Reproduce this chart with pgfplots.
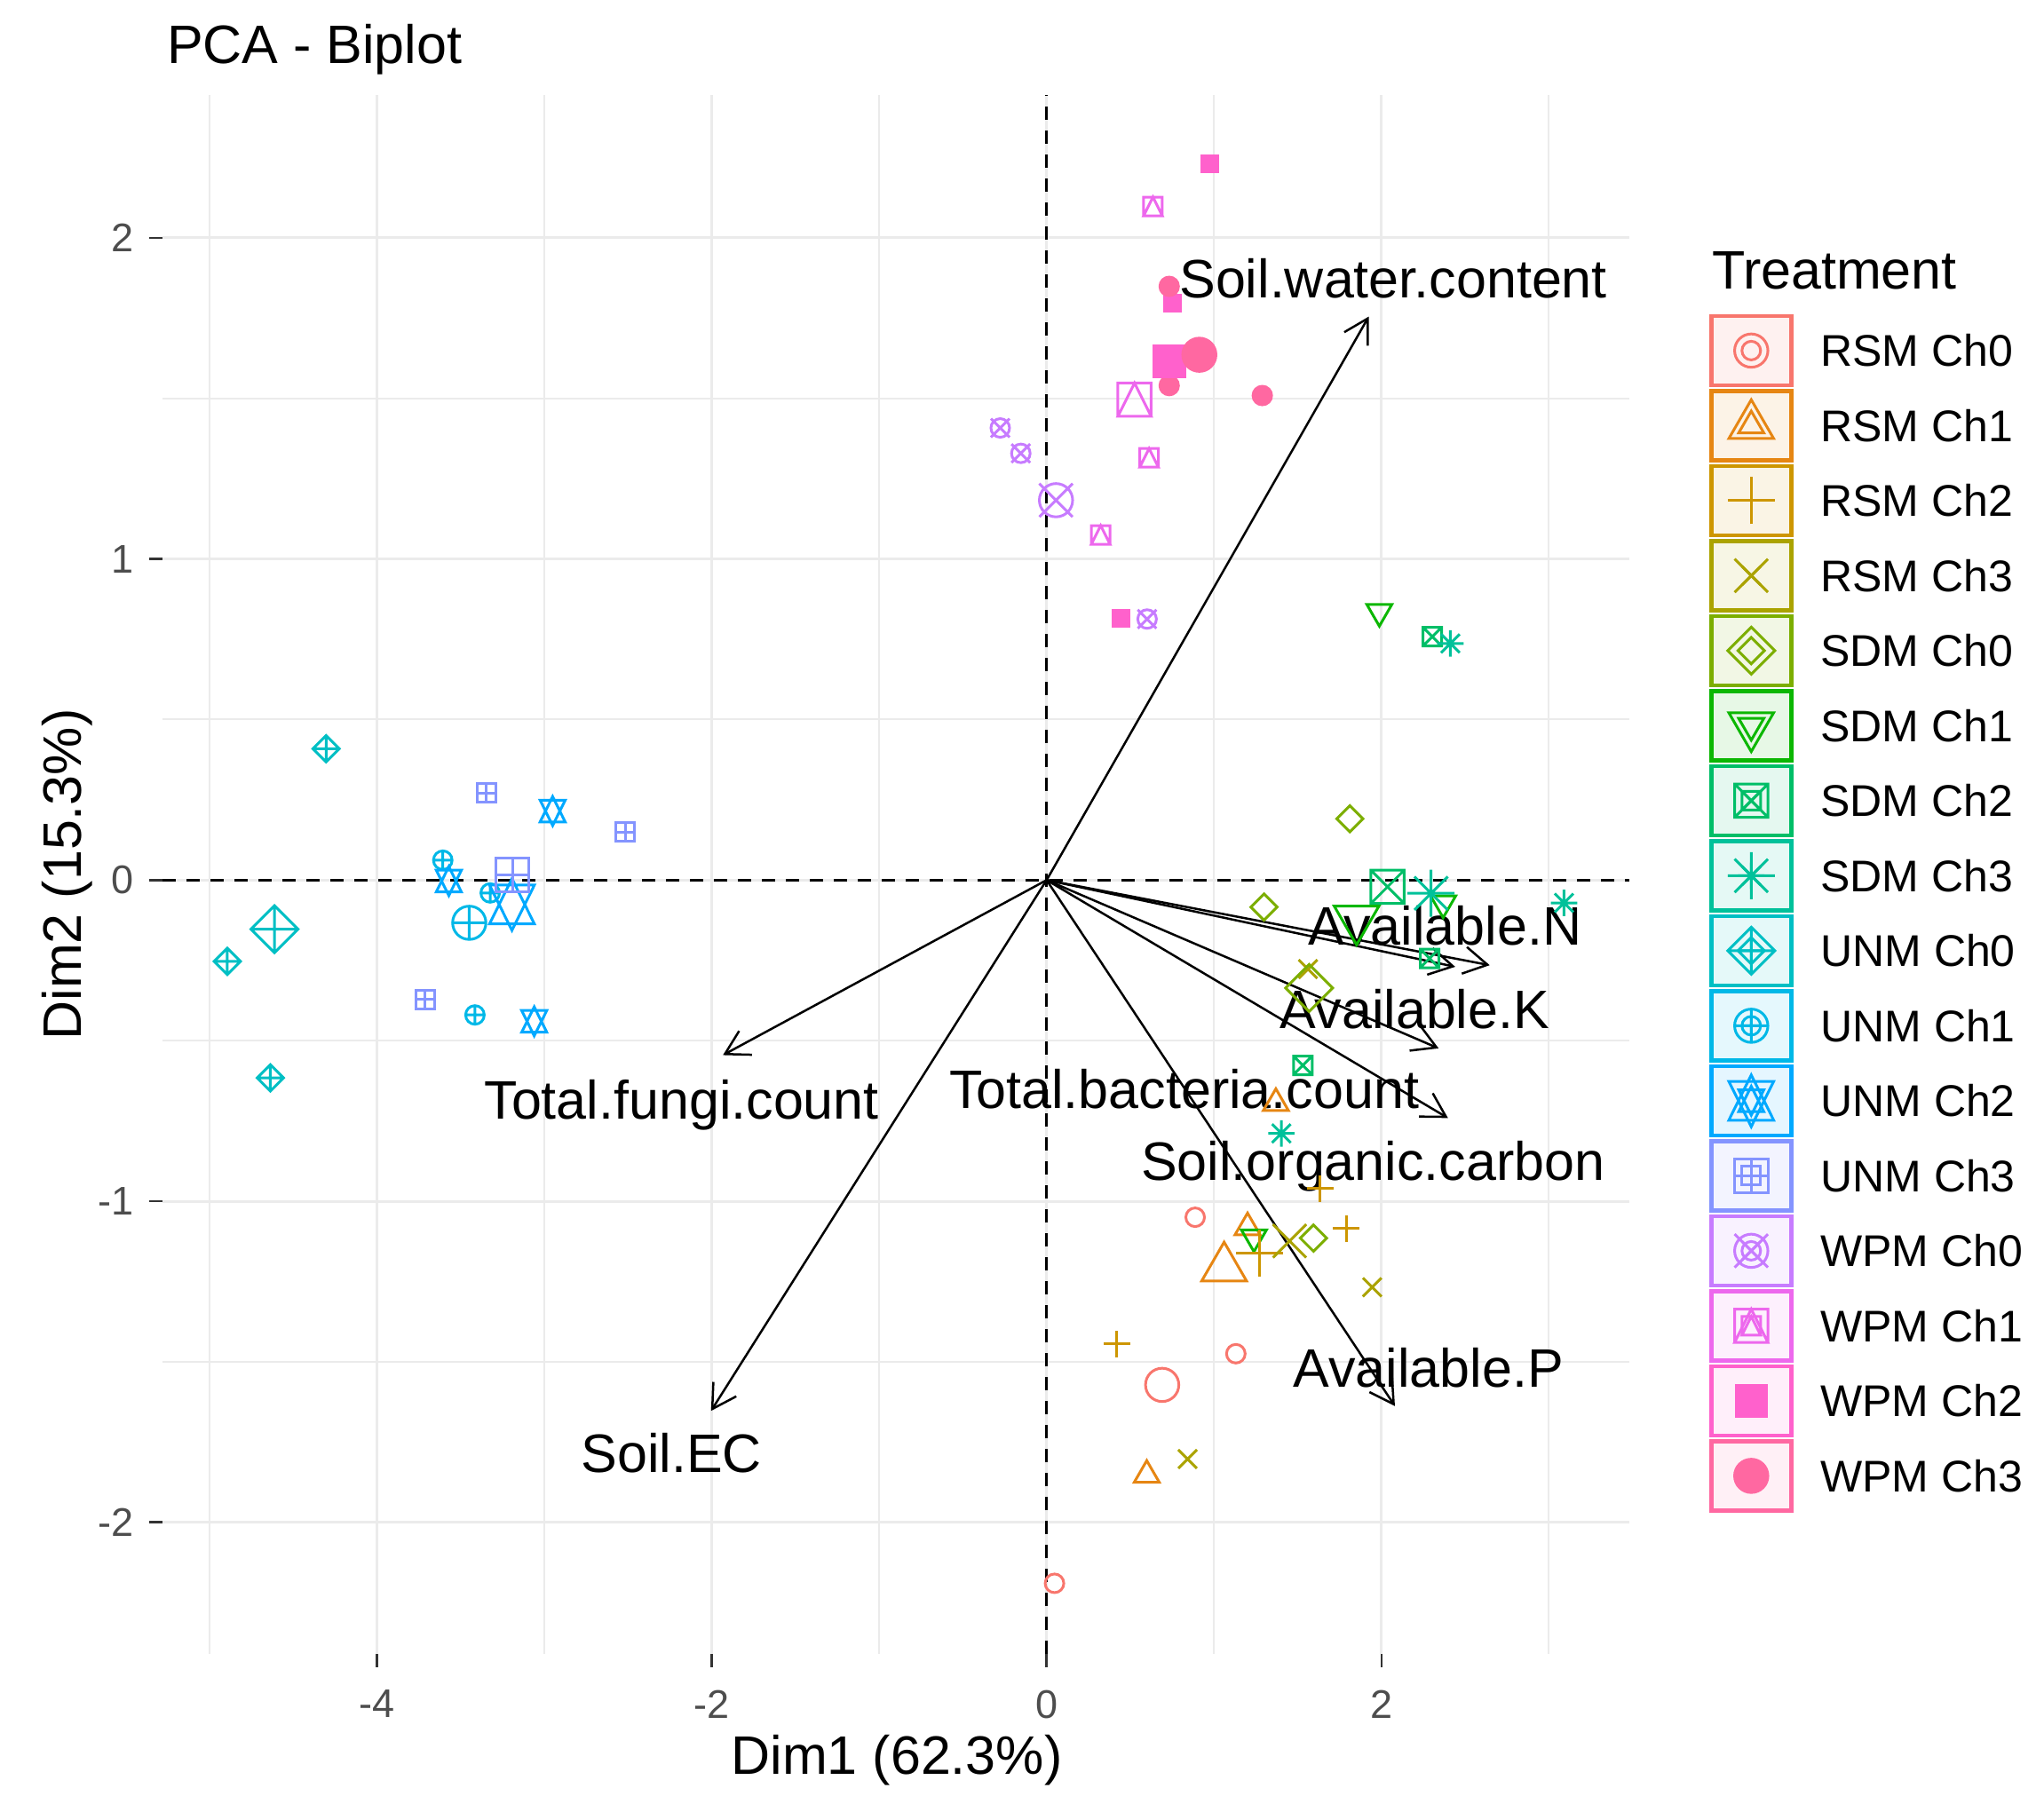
\documentclass[border=0pt]{standalone}
\usepackage{pgfplots}
\pgfplotsset{compat=1.18}
\usetikzlibrary{arrows.meta}
\usepackage{fontspec}
\setmainfont{Liberation Sans}

% ggplot hue palette, 16 levels
\definecolor{c1}{HTML}{F8766D}
\definecolor{c2}{HTML}{E68613}
\definecolor{c3}{HTML}{CD9600}
\definecolor{c4}{HTML}{ABA300}
\definecolor{c5}{HTML}{7CAE00}
\definecolor{c6}{HTML}{0CB702}
\definecolor{c7}{HTML}{00BE67}
\definecolor{c8}{HTML}{00C19A}
\definecolor{c9}{HTML}{00BFC4}
\definecolor{c10}{HTML}{00B8E7}
\definecolor{c11}{HTML}{00A9FF}
\definecolor{c12}{HTML}{8494FF}
\definecolor{c13}{HTML}{C77CFF}
\definecolor{c14}{HTML}{ED68ED}
\definecolor{c15}{HTML}{FF61CC}
\definecolor{c16}{HTML}{FF68A1}
\definecolor{gridc}{HTML}{EBEBEB}
\definecolor{gray30}{HTML}{4D4D4D}
\definecolor{gray20}{HTML}{333333}

% R pch shapes 1..16
\def\pmR{\pgfplotmarksize}
\pgfdeclareplotmark{p1}{\pgfpathcircle{\pgfpointorigin}{\pmR}\pgfusepathqstroke}
\pgfdeclareplotmark{p2}{%
  \pgfpathmoveto{\pgfqpoint{0pt}{1.5551\pmR}}%
  \pgfpathlineto{\pgfqpoint{1.3468\pmR}{-0.7776\pmR}}%
  \pgfpathlineto{\pgfqpoint{-1.3468\pmR}{-0.7776\pmR}}%
  \pgfpathclose\pgfusepathqstroke}
\pgfdeclareplotmark{p3}{%
  \pgfpathmoveto{\pgfqpoint{-1.4142\pmR}{0pt}}\pgfpathlineto{\pgfqpoint{1.4142\pmR}{0pt}}%
  \pgfpathmoveto{\pgfqpoint{0pt}{-1.4142\pmR}}\pgfpathlineto{\pgfqpoint{0pt}{1.4142\pmR}}%
  \pgfusepathqstroke}
\pgfdeclareplotmark{p4}{%
  \pgfpathmoveto{\pgfqpoint{-\pmR}{-\pmR}}\pgfpathlineto{\pgfqpoint{\pmR}{\pmR}}%
  \pgfpathmoveto{\pgfqpoint{-\pmR}{\pmR}}\pgfpathlineto{\pgfqpoint{\pmR}{-\pmR}}%
  \pgfusepathqstroke}
\pgfdeclareplotmark{p5}{%
  \pgfpathmoveto{\pgfqpoint{0pt}{1.4142\pmR}}\pgfpathlineto{\pgfqpoint{1.4142\pmR}{0pt}}%
  \pgfpathlineto{\pgfqpoint{0pt}{-1.4142\pmR}}\pgfpathlineto{\pgfqpoint{-1.4142\pmR}{0pt}}%
  \pgfpathclose\pgfusepathqstroke}
\pgfdeclareplotmark{p6}{%
  \pgfpathmoveto{\pgfqpoint{0pt}{-1.5551\pmR}}%
  \pgfpathlineto{\pgfqpoint{1.3468\pmR}{0.7776\pmR}}%
  \pgfpathlineto{\pgfqpoint{-1.3468\pmR}{0.7776\pmR}}%
  \pgfpathclose\pgfusepathqstroke}
\pgfdeclareplotmark{p7}{%
  \pgfpathrectanglecorners{\pgfqpoint{-\pmR}{-\pmR}}{\pgfqpoint{\pmR}{\pmR}}%
  \pgfpathmoveto{\pgfqpoint{-\pmR}{-\pmR}}\pgfpathlineto{\pgfqpoint{\pmR}{\pmR}}%
  \pgfpathmoveto{\pgfqpoint{-\pmR}{\pmR}}\pgfpathlineto{\pgfqpoint{\pmR}{-\pmR}}%
  \pgfusepathqstroke}
\pgfdeclareplotmark{p8}{%
  \pgfpathmoveto{\pgfqpoint{-\pmR}{-\pmR}}\pgfpathlineto{\pgfqpoint{\pmR}{\pmR}}%
  \pgfpathmoveto{\pgfqpoint{-\pmR}{\pmR}}\pgfpathlineto{\pgfqpoint{\pmR}{-\pmR}}%
  \pgfpathmoveto{\pgfqpoint{-1.4142\pmR}{0pt}}\pgfpathlineto{\pgfqpoint{1.4142\pmR}{0pt}}%
  \pgfpathmoveto{\pgfqpoint{0pt}{-1.4142\pmR}}\pgfpathlineto{\pgfqpoint{0pt}{1.4142\pmR}}%
  \pgfusepathqstroke}
\pgfdeclareplotmark{p9}{%
  \pgfpathmoveto{\pgfqpoint{0pt}{1.4142\pmR}}\pgfpathlineto{\pgfqpoint{1.4142\pmR}{0pt}}%
  \pgfpathlineto{\pgfqpoint{0pt}{-1.4142\pmR}}\pgfpathlineto{\pgfqpoint{-1.4142\pmR}{0pt}}%
  \pgfpathclose
  \pgfpathmoveto{\pgfqpoint{-1.4142\pmR}{0pt}}\pgfpathlineto{\pgfqpoint{1.4142\pmR}{0pt}}%
  \pgfpathmoveto{\pgfqpoint{0pt}{-1.4142\pmR}}\pgfpathlineto{\pgfqpoint{0pt}{1.4142\pmR}}%
  \pgfusepathqstroke}
\pgfdeclareplotmark{p10}{%
  \pgfpathcircle{\pgfpointorigin}{\pmR}%
  \pgfpathmoveto{\pgfqpoint{-\pmR}{0pt}}\pgfpathlineto{\pgfqpoint{\pmR}{0pt}}%
  \pgfpathmoveto{\pgfqpoint{0pt}{-\pmR}}\pgfpathlineto{\pgfqpoint{0pt}{\pmR}}%
  \pgfusepathqstroke}
\pgfdeclareplotmark{p11}{%
  \pgfpathmoveto{\pgfqpoint{0pt}{-1.5551\pmR}}%
  \pgfpathlineto{\pgfqpoint{1.3468\pmR}{1.1663\pmR}}%
  \pgfpathlineto{\pgfqpoint{-1.3468\pmR}{1.1663\pmR}}\pgfpathclose
  \pgfpathmoveto{\pgfqpoint{0pt}{1.5551\pmR}}%
  \pgfpathlineto{\pgfqpoint{1.3468\pmR}{-1.1663\pmR}}%
  \pgfpathlineto{\pgfqpoint{-1.3468\pmR}{-1.1663\pmR}}\pgfpathclose
  \pgfusepathqstroke}
\pgfdeclareplotmark{p12}{%
  \pgfpathrectanglecorners{\pgfqpoint{-\pmR}{-\pmR}}{\pgfqpoint{\pmR}{\pmR}}%
  \pgfpathmoveto{\pgfqpoint{-\pmR}{0pt}}\pgfpathlineto{\pgfqpoint{\pmR}{0pt}}%
  \pgfpathmoveto{\pgfqpoint{0pt}{-\pmR}}\pgfpathlineto{\pgfqpoint{0pt}{\pmR}}%
  \pgfusepathqstroke}
\pgfdeclareplotmark{p13}{%
  \pgfpathcircle{\pgfpointorigin}{\pmR}%
  \pgfpathmoveto{\pgfqpoint{-\pmR}{-\pmR}}\pgfpathlineto{\pgfqpoint{\pmR}{\pmR}}%
  \pgfpathmoveto{\pgfqpoint{-\pmR}{\pmR}}\pgfpathlineto{\pgfqpoint{\pmR}{-\pmR}}%
  \pgfusepathqstroke}
\pgfdeclareplotmark{p14}{%
  \pgfpathrectanglecorners{\pgfqpoint{-\pmR}{-\pmR}}{\pgfqpoint{\pmR}{\pmR}}%
  \pgfpathmoveto{\pgfqpoint{0pt}{\pmR}}\pgfpathlineto{\pgfqpoint{\pmR}{-\pmR}}%
  \pgfpathlineto{\pgfqpoint{-\pmR}{-\pmR}}\pgfpathclose
  \pgfusepathqstroke}
\pgfdeclareplotmark{p15}{%
  \pgfpathrectanglecorners{\pgfqpoint{-\pmR}{-\pmR}}{\pgfqpoint{\pmR}{\pmR}}\pgfusepathqfill}
\pgfdeclareplotmark{p16}{\pgfpathcircle{\pgfpointorigin}{\pmR}\pgfusepathqfillstroke}

\pgfplotsset{
  grp/.style n args={2}{only marks, color=#1, mark=#2, mark size=2.1pt, line width=0.6pt,
    legend image code/.code={%
      \path[draw=none, fill=none] (0pt,-8.45pt) rectangle (25pt,8.45pt);
      \draw[#1, line width=0.9pt, fill=#1!10] (0.4pt,-7.8pt) rectangle (18.4pt,7.8pt);
      \draw[##1, mark size=2.1pt] plot coordinates {(9.4pt,0pt)};
      \draw[##1, mark size=3.75pt] plot coordinates {(9.4pt,0pt)};
    }},
  avg/.style n args={2}{only marks, color=#1, mark=#2, mark size=3.75pt, line width=0.6pt, forget plot},
  var/.style={black, line width=0.5pt, mark=none, forget plot,
    -{Straight Barb[length=5.3pt,width=6.1pt]}},
}

\begin{document}
\begin{tikzpicture}
\path[use as bounding box] (0,0) rectangle (460.4pt,404.4pt);
\begin{axis}[
  at={(36.6pt,31.8pt)}, anchor=south west,
  scale only axis, width=330.4pt, height=351.2pt,
  xmin=-5.28, xmax=3.48, ymin=-2.41, ymax=2.445,
  xtick={-4,-2,0,2},
  xticklabels={\textnormal{-4},\textnormal{-2},\textnormal{0},\textnormal{2}},
  ytick={-2,-1,0,1,2},
  yticklabels={\textnormal{-2},\textnormal{-1},\textnormal{0},\textnormal{1},\textnormal{2}},
  minor xtick={-5,-3,-1,1,3},
  minor ytick={-1.5,-0.5,0.5,1.5},
  grid=both,
  major grid style={color=gridc, line width=0.6pt},
  minor grid style={color=gridc, line width=0.4pt},
  axis line style={draw=none},
  tick align=outside, xtick pos=left, ytick pos=left,
  major tick length=3pt, minor tick length=0pt,
  major tick style={color=gray20, line width=0.55pt},
  ticklabel style={font=\fontsize{9}{10}\selectfont, text=gray30},
  xticklabel style={yshift=-1.6pt},
  clip=false,
  legend cell align=left,
  legend style={at={(1.0545,0.8601)}, anchor=north west, draw=none, fill=none,
    inner xsep=0pt, inner ysep=0pt, outer sep=0pt, row sep=0pt, column sep=0pt,
    font=\fontsize{10}{12}\selectfont,
    nodes={inner sep=0pt, text depth=0pt, text height=7.2pt}},
]
% zero lines
\addplot[black, line width=0.7pt, dash pattern=on 3pt off 2.4pt, forget plot] coordinates {(-5.28,0) (3.48,0)};
\addplot[black, line width=0.7pt, dash pattern=on 3pt off 2.4pt, forget plot] coordinates {(0,-2.41) (0,2.445)};

% individuals
\addplot[grp={c1}{p1}] coordinates {(0.887,-1.05) (1.13,-1.475) (0.047,-2.19)};
\addlegendentry{RSM Ch0}
\addplot[grp={c2}{p2}] coordinates {(1.20,-1.082) (0.598,-1.853) (1.369,-0.695)};
\addlegendentry{RSM Ch1}
\addplot[grp={c3}{p3}] coordinates {(1.79,-1.085) (1.634,-0.961) (0.42,-1.445)};
\addlegendentry{RSM Ch2}
\addplot[grp={c4}{p4}] coordinates {(1.561,-0.277) (1.944,-1.268) (0.842,-1.803)};
\addlegendentry{RSM Ch3}
\addplot[grp={c5}{p5}] coordinates {(1.811,0.191) (1.298,-0.084) (1.594,-1.115)};
\addlegendentry{SDM Ch0}
\addplot[grp={c6}{p6}] coordinates {(1.987,0.836) (1.238,-1.112) (2.368,-0.072)};
\addlegendentry{SDM Ch1}
\addplot[grp={c7}{p7}] coordinates {(2.303,0.758) (2.287,-0.244) (1.530,-0.577)};
\addlegendentry{SDM Ch2}
\addplot[grp={c8}{p8}] coordinates {(2.411,0.737) (3.09,-0.071) (1.402,-0.789)};
\addlegendentry{SDM Ch3}
\addplot[grp={c9}{p9}] coordinates {(-4.303,0.409) (-4.893,-0.253) (-4.636,-0.616)};
\addlegendentry{UNM Ch0}
\addplot[grp={c10}{p10}] coordinates {(-3.606,0.062) (-3.323,-0.04) (-3.414,-0.42)};
\addlegendentry{UNM Ch1}
\addplot[grp={c11}{p11}] coordinates {(-2.95,0.215) (-3.57,-0.003) (-3.06,-0.44)};
\addlegendentry{UNM Ch2}
\addplot[grp={c12}{p12}] coordinates {(-3.347,0.271) (-2.515,0.149) (-3.713,-0.372)};
\addlegendentry{UNM Ch3}
\addplot[grp={c13}{p13}] coordinates {(-0.277,1.408) (-0.154,1.329) (0.60,0.813)};
\addlegendentry{WPM Ch0}
\addplot[grp={c14}{p14}] coordinates {(0.635,2.098) (0.612,1.315) (0.323,1.075)};
\addlegendentry{WPM Ch1}
\addplot[grp={c15}{p15}] coordinates {(0.977,2.23) (0.754,1.797) (0.446,0.815)};
\addlegendentry{WPM Ch2}
\addplot[grp={c16}{p16}] coordinates {(0.732,1.849) (0.732,1.54) (1.288,1.509)};
\addlegendentry{WPM Ch3}

% group means
\addplot[avg={c1}{p1}] coordinates {(0.69,-1.572)};
\addplot[avg={c2}{p2}] coordinates {(1.06,-1.208)};
\addplot[avg={c3}{p3}] coordinates {(1.273,-1.163)};
\addplot[avg={c4}{p4}] coordinates {(1.451,-1.124)};
\addplot[avg={c5}{p5}] coordinates {(1.568,-0.336)};
\addplot[avg={c6}{p6}] coordinates {(1.851,-0.121)};
\addplot[avg={c7}{p7}] coordinates {(2.036,-0.021)};
\addplot[avg={c8}{p8}] coordinates {(2.296,-0.041)};
\addplot[avg={c9}{p9}] coordinates {(-4.611,-0.153)};
\addplot[avg={c10}{p10}] coordinates {(-3.448,-0.133)};
\addplot[avg={c11}{p11}] coordinates {(-3.193,-0.076)};
\addplot[avg={c12}{p12}] coordinates {(-3.19,0.016)};
\addplot[avg={c13}{p13}] coordinates {(0.056,1.183)};
\addplot[avg={c14}{p14}] coordinates {(0.525,1.496)};
\addplot[avg={c15}{p15}] coordinates {(0.733,1.615)};
\addplot[avg={c16}{p16}] coordinates {(0.912,1.636)};

% variables
\addplot[var] coordinates {(0,0) (1.924,1.755)};
\addplot[var] coordinates {(0,0) (2.646,-0.265)};
\addplot[var] coordinates {(0,0) (2.44,-0.27)};
\addplot[var] coordinates {(0,0) (2.341,-0.524)};
\addplot[var] coordinates {(0,0) (2.397,-0.741)};
\addplot[var] coordinates {(0,0) (2.08,-1.638)};
\addplot[var] coordinates {(0,0) (-1.933,-0.545)};
\addplot[var] coordinates {(0,0) (-2.004,-1.653)};

\begin{scope}[every node/.style={anchor=base, inner sep=0pt, font=\fontsize{12.2}{14}\selectfont}]
\node at (axis cs:2.07,1.812) {Soil.water.content};
\node at (axis cs:2.38,-0.203) {Available.N};
\node at (axis cs:2.197,-0.461) {Available.K};
\node at (axis cs:0.821,-0.712) {Total.bacteria.count};
\node at (axis cs:1.949,-0.934) {Soil.organic.carbon};
\node at (axis cs:2.28,-1.578) {Available.P};
\node at (axis cs:-2.18,-0.743) {Total.fungi.count};
\node at (axis cs:-2.24,-1.845) {Soil.EC};
\end{scope}
\end{axis}

\node[anchor=base west, inner sep=0pt, font=\fontsize{12.2}{14}\selectfont] at (37.4pt,390pt) {PCA - Biplot};
\node[anchor=base, inner sep=0pt, font=\fontsize{12.2}{14}\selectfont] at (202pt,4.8pt) {Dim1 (62.3\%)};
\node[anchor=base, rotate=90, inner sep=0pt, font=\fontsize{12.2}{14}\selectfont] at (18.3pt,207.4pt) {Dim2 (15.3\%)};
\node[anchor=base west, inner sep=0pt, font=\fontsize{12.2}{14}\selectfont] at (385.4pt,339.2pt) {Treatment};
\end{tikzpicture}
\end{document}
